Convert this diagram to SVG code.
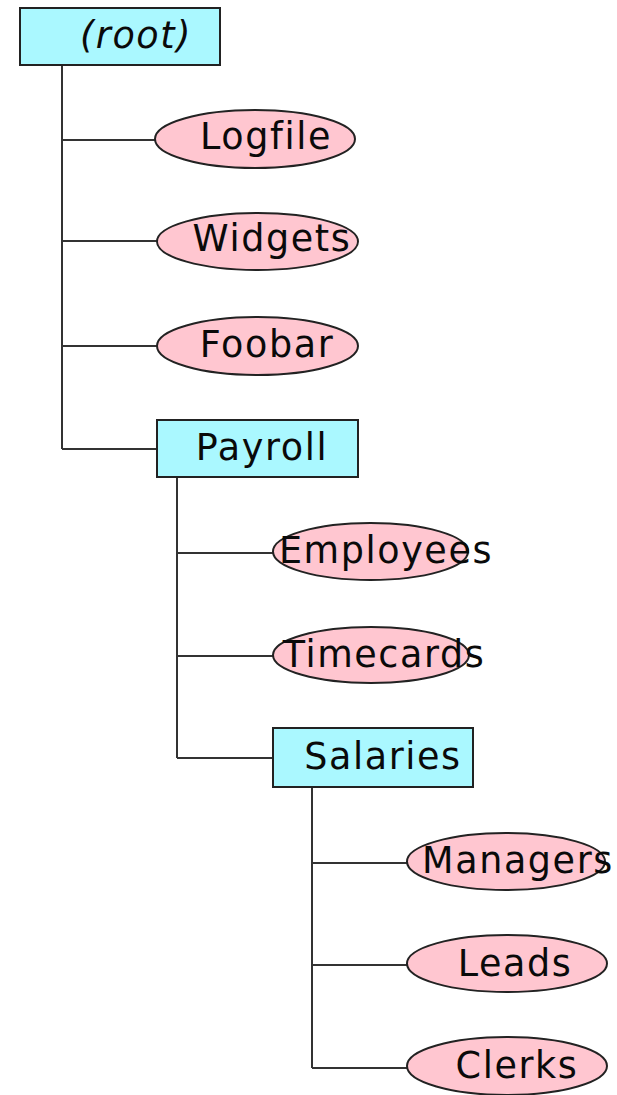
<svg xmlns="http://www.w3.org/2000/svg" width="617" height="1095" viewBox="0 0 617 1095">
<style>
.box{fill:#aaf8ff;stroke:#222;stroke-width:2}
.ell{fill:#ffc6d0;stroke:#222;stroke-width:2}
.lbl{font-family:"DejaVu Sans",sans-serif;font-size:36.5px;letter-spacing:1.6px;fill:#0a0a0a;text-anchor:middle}
.it{font-style:oblique}
.edge{fill:none;stroke:#333;stroke-width:2}
</style>
<rect width="617" height="1095" fill="#fff"/>
<g id="connectors">
<path class="edge" d="M62 65V449M62 140H155M62 241H157M62 346H157M62 449H157"/>
<path class="edge" d="M177 477V758M177 553H273M177 656H273M177 758H273"/>
<path class="edge" d="M312 787V1068M312 863H407M312 965H407M312 1068H407"/>
</g>
<g id="root"><rect class="box" x="20" y="8" width="200" height="57"/><text class="lbl it" x="136" y="48">(root)</text></g>
<g id="logfile"><ellipse class="ell" cx="255" cy="139" rx="100" ry="29"/><text class="lbl" x="266" y="149">Logfile</text></g>
<g id="widgets"><ellipse class="ell" cx="257.5" cy="241.5" rx="100.5" ry="28.5"/><text class="lbl" x="272" y="251">Widgets</text></g>
<g id="foobar"><ellipse class="ell" cx="257.5" cy="346" rx="100.5" ry="29"/><text class="lbl" x="267" y="357">Foobar</text></g>
<g id="payroll"><rect class="box" x="157" y="420" width="201" height="57"/><text class="lbl" x="262" y="460">Payroll</text></g>
<g id="employees"><ellipse class="ell" cx="370.5" cy="551.5" rx="97.5" ry="28.5"/><text class="lbl" x="386" y="563">Employees</text></g>
<g id="timecards"><ellipse class="ell" cx="371" cy="655" rx="98" ry="28"/><text class="lbl" x="384" y="667">Timecards</text></g>
<g id="salaries"><rect class="box" x="273" y="728" width="200" height="59"/><text class="lbl" x="383" y="769">Salaries</text></g>
<g id="managers"><ellipse class="ell" cx="506" cy="861.5" rx="99" ry="28.5"/><text class="lbl" x="518" y="873">Managers</text></g>
<g id="leads"><ellipse class="ell" cx="507" cy="963.5" rx="100" ry="28.5"/><text class="lbl" x="515" y="976">Leads</text></g>
<g id="clerks"><ellipse class="ell" cx="507" cy="1066" rx="100" ry="29"/><text class="lbl" x="517" y="1078">Clerks</text></g>
</svg>
